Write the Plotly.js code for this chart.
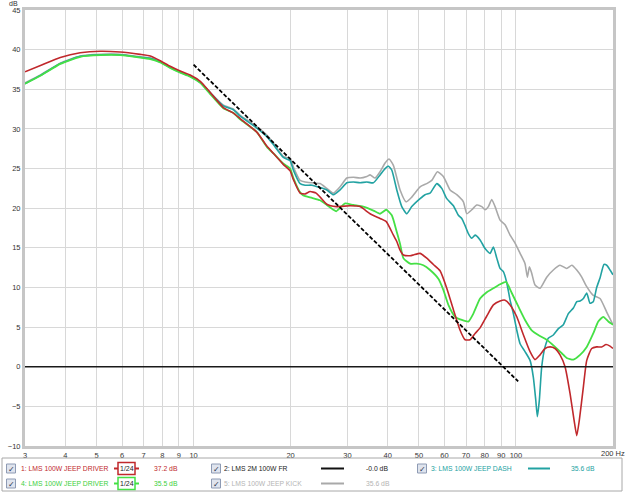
<!DOCTYPE html>
<html><head><meta charset="utf-8">
<script src="https://cdn.plot.ly/plotly-3.0.1.min.js"></script>
<style>html,body{margin:0;padding:0;background:#fff;}#chart{width:625px;height:494px;}</style>
</head><body><div id="chart"></div>
<script>
// ---- data (frequency in Hz, level in dB) ----
const fRed = [3.0,3.35,3.86,4.45,5.14,5.92,6.83,7.34,7.88,8.46,9.09,9.76,10.49,11.26,12.37,13.3,13.95,15.71,16.9,17.7,19.0,19.93,20.4,21.4,22.18,22.99,24.0,24.69,25.9,27.7,30.58,32.85,35.28,37.89,39.6,41.67,42.69,43.71,44.75,46.95,48.1,50.42,52.89,55.44,58.16,61.01,63.96,67.1,69.54,72.06,74.68,77.4,81.19,85.11,89.28,92.52,95.89,100.6,105.5,110.6,114.6,118.8,123.1,127.6,132.2,137,142,147.2,151.4,154.4,157.3,161.9,165.8,171.8,178,184.5,190.3,195.8,200];
const dbRed = [37.2,38.0,39.0,39.6,39.8,39.7,39.4,39.2,38.6,37.9,37.3,36.8,36.0,34.6,32.7,32.0,31.3,29.6,27.8,26.9,25.5,24.7,23.6,21.9,21.8,22.1,21.9,21.4,20.5,20.2,20.3,20.2,19.3,18.7,18.3,16.6,15.8,14.7,14.1,14.0,14.1,14.3,13.7,12.9,12.1,9.9,7.2,4.6,3.4,3.4,4.2,4.9,6.4,7.8,8.3,8.4,7.8,6.3,4.0,1.9,0.9,1.5,2.3,2.5,2.3,1.5,0,-3.4,-6.7,-8.7,-6.7,-2.5,0.8,2.3,2.5,2.5,2.8,2.6,2.3];

const fGreen = [3.0,3.35,3.86,4.45,5.14,5.92,6.83,7.34,7.88,8.46,9.09,9.76,10.49,11.26,12.37,13.3,13.95,15.71,16.9,17.7,19.0,19.93,20.4,21.4,21.9,23.3,24.69,25.9,27.15,27.7,29.51,31.31,33.6,36.12,37.89,39.6,41.2,42.69,43.71,44.75,46.95,49.25,51.62,54.15,57.45,59.54,61.71,64.74,67.92,71.19,73.77,77.4,81.19,85.11,89.28,93.18,97.06,101.7,106.7,111.9,117.3,124.6,132.2,138.7,143.7,150.7,158.1,165.8,173.7,180,186.6,193.4,200];
const dbGreen = [35.7,36.7,38.2,39.1,39.3,39.3,39.0,38.8,38.4,37.7,37.1,36.6,35.8,34.4,32.6,32.0,31.2,29.6,27.7,26.9,25.6,25.0,23.8,22.0,21.6,21.3,21.0,20.4,19.8,19.6,20.6,20.4,20.2,19.7,19.3,19.8,19.1,17.0,15.5,13.7,13.0,13.0,12.8,12.2,11.1,9.7,7.8,6.3,5.9,5.7,6.7,8.6,9.4,9.9,10.4,10.7,9.3,7.6,5.9,4.6,4.0,3.4,2.5,1.7,1.1,0.9,1.5,2.5,4.2,5.7,6.3,5.7,5.3];

const fTeal = [3.0,3.35,3.86,4.45,5.14,5.92,6.83,7.34,7.88,8.46,9.09,9.76,10.49,11.26,12.37,13.3,13.95,15.71,16.9,17.7,19.0,19.93,20.4,21.4,22.18,23.3,24.69,25.9,27.15,28.48,29.88,31.31,32.85,34.46,36.12,37.89,39.27,40.2,41.2,42.69,44.24,45.85,47.52,50.42,52.25,54.15,56.8,58.87,61.01,63.96,66.28,67.92,69.54,71.19,72.94,74.68,77.4,80.21,83.13,85.11,87.2,89.28,91.4,93.65,95.89,98.17,100.6,103,106.7,110.6,113.2,115.2,116.5,118.2,120.2,123.1,126,130.6,135.4,140.3,145.4,150.7,154.4,158.1,161.9,165.8,169.7,173.7,178,182.3,187.5,191.2,195.8,200];
const dbTeal = [35.7,36.75,38.25,39.15,39.35,39.35,39.05,38.9,38.45,37.75,37.15,36.65,35.85,34.55,32.9,32.4,31.6,30.1,29.0,28.0,26.4,26.0,24.8,23.1,22.9,22.9,22.6,22.3,21.7,22.3,23.2,23.3,23.2,23.3,23.2,24.2,25.0,25.3,24.8,22.3,20.2,19.3,20.2,21.2,21.7,21.9,23.1,22.5,21.2,20.3,19.1,18.7,17.8,16.8,16.2,16.6,16.0,14.9,14.3,15.1,13.7,12.4,12.0,10.6,8.4,6.7,4.6,2.9,1.9,0.8,-1.3,-4.2,-6.3,-4.2,0,2.5,3.6,4.0,4.8,5.3,6.7,7.4,8.2,8.3,8.6,9.3,8.0,8.2,10.0,11.2,12.9,12.8,12.2,11.6];

const fGrey = [3.0,3.35,3.86,4.45,5.14,5.92,6.83,7.34,7.88,8.46,9.09,9.76,10.49,11.26,12.37,13.3,13.95,15.71,16.9,17.7,19.0,19.93,20.4,21.4,22.18,23.3,24.69,25.9,27.15,28.48,29.88,31.31,32.85,34.46,35.28,36.56,37.89,39.27,40.4,41.67,43.71,45.62,47.52,50.42,52.89,54.81,57.05,59.54,62.47,65.53,68.7,70.39,72.94,75.59,78.34,80.21,82.12,84.14,86.15,89.28,92.52,95.89,99.37,103,106.7,108.5,110.1,111.9,114.6,118.8,124.6,130.6,137,143.7,149,154.4,160,165.8,173.7,182.3,191.2,200];
const dbGrey = [35.8,36.8,38.3,39.2,39.4,39.4,39.1,38.95,38.5,37.8,37.2,36.7,35.9,34.6,33.0,32.5,31.7,30.3,29.2,28.2,26.5,26.3,25.2,23.5,23.3,23.2,23.1,22.5,21.9,22.7,23.8,23.9,23.8,24.0,24.2,23.8,24.6,25.7,26.2,25.4,22.3,20.8,21.4,22.7,23.1,23.5,24.6,24.0,22.3,21.7,20.8,19.3,19.8,20.4,20.2,19.8,20.2,21.1,20.2,18.5,17.9,16.6,15.6,14.3,13.0,11.3,12.6,11.8,10.3,9.9,11.3,12.2,12.8,12.4,12.8,12.2,11.3,10.1,9.0,8.6,6.9,5.3];

const fFlat = [3, 200];
const dbFlat = [0, 0];

const fSlope = [10, 101.6];
const dbSlope = [38.1, -1.85];

const xTickVals = [3,4,5,6,7,8,9,10,20,30,40,50,60,70,80,90,100,200];
const xTickText = ['3','4','5','6','7','8','9','10','20','30','40','50','60','70','80','90','100',''];
const yTickVals = [-10,-5,0,5,10,15,20,25,30,35,40,45];

const legendNames = ['1: LMS 100W JEEP DRIVER','2: LMS 2M 100W FR','3: LMS 100W JEEP DASH','4: LMS 100W JEEP DRIVER','5: LMS 100W JEEP KICK'];
const legendValues = ['37.2 dB','-0.0 dB','35.6 dB','35.5 dB','35.6 dB'];

// ---- styling ----
const C_RED = '#c0282c', C_GREEN = '#45e045', C_TEAL = '#22a2a2', C_GREY = '#a9a9a9';
const FONT = 'Liberation Sans, Arial, sans-serif';

function line(x, y, color, w) {
  return {x: x, y: y, type: 'scatter', mode: 'lines', hoverinfo: 'skip',
          line: {color: color, width: w, shape: 'spline', smoothing: 0.5}};
}
const traces = [
  line(fGrey, dbGrey, C_GREY, 1.6),
  line(fTeal, dbTeal, C_TEAL, 1.6),
  line(fGreen, dbGreen, C_GREEN, 1.8),
  line(fRed, dbRed, C_RED, 1.6),
  {x: fFlat, y: dbFlat, type: 'scatter', mode: 'lines', hoverinfo: 'skip', line: {color: '#1a1a1a', width: 1.6}},
  {x: fSlope, y: dbSlope, type: 'scatter', mode: 'lines', hoverinfo: 'skip', line: {color: '#000', width: 1.8, dash: '4px,2px'}}
];

const M = {l: 25, r: 12, t: 10, b: 48};
const W = 625 - M.l - M.r, H = 494 - M.t - M.b;
const px = x => (x - M.l) / W;
const py = y => (494 - M.b - y) / H;

const shapes = [];
const ann = [];
function txt(x, y, t, color, anchor, size) {
  ann.push({xref: 'paper', yref: 'paper', x: px(x), y: py(y), text: t, showarrow: false,
            xanchor: anchor || 'left', yanchor: 'middle', borderpad: 0,
            font: {family: FONT, size: size || 6.8, color: color}});
}
function rect(x0, y0, x1, y1, fill, lc, lw) {
  shapes.push({type: 'rect', xref: 'paper', yref: 'paper', x0: px(x0), x1: px(x1), y0: py(y1), y1: py(y0),
               fillcolor: fill, line: {color: lc, width: lw}});
}
function seg(x0, x1, y, color, w) {
  shapes.push({type: 'line', xref: 'paper', yref: 'paper', x0: px(x0), x1: px(x1), y0: py(y), y1: py(y),
               line: {color: color, width: w}});
}
function check(x, y) {
  rect(x - 4.5, y - 4.5, x + 4.5, y + 4.5, '#dfe4ee', '#8e9bb4', 1);
  txt(x, y + 0.5, '✓', '#2a3550', 'center', 8);
}

// legend frame
rect(2, 458, 622, 491, 'rgba(255,255,255,0)', '#a8a8a8', 1);
const r1 = 468.5, r2 = 483.5;
// row 1
check(11, r1); txt(20, r1, legendNames[0], C_RED);
seg(114, 139, r1, C_RED, 2); rect(118, r1 - 6, 135, r1 + 6, '#fff', C_RED, 1.5); txt(126.5, r1, '1/24', '#222', 'center', 7);
txt(153, r1, legendValues[0], C_RED);
check(216, r1); txt(223, r1, legendNames[1], '#222');
seg(321, 344, r1, '#111', 2); txt(365, r1, legendValues[1], '#222');
check(422, r1); txt(430, r1, legendNames[2], C_TEAL);
seg(528, 550, r1, C_TEAL, 2); txt(570, r1, legendValues[2], C_TEAL);
// row 2
check(11, r2); txt(20, r2, legendNames[3], '#3ccf3c');
seg(114, 139, r2, C_GREEN, 2); rect(118, r2 - 6, 135, r2 + 6, '#fff', C_GREEN, 1.5); txt(126.5, r2, '1/24', '#222', 'center', 7);
txt(153, r2, legendValues[3], '#3ccf3c');
check(216, r2); txt(223, r2, legendNames[4], '#b4b4b4');
seg(321, 344, r2, C_GREY, 2); txt(365, r2, legendValues[4], '#b4b4b4');

// axis extras
txt(613, 453, '200 Hz', '#333', 'center', 7.5);
txt(8, 4, 'dB', '#333', 'left', 7);

const layout = {
  width: 625, height: 494, margin: M, showlegend: false,
  paper_bgcolor: '#fff', plot_bgcolor: '#fff',
  font: {family: FONT, size: 7.5, color: '#333'},
  xaxis: {type: 'log', range: [Math.log10(3), Math.log10(200)], tickvals: xTickVals, ticktext: xTickText,
          showgrid: true, gridcolor: '#d8d8d8', gridwidth: 1, zeroline: false, ticks: '', ticklen: 0,
          showline: true, linecolor: '#c6c6c6', linewidth: 3, mirror: true,
          tickfont: {family: FONT, size: 7.5, color: '#333'}},
  yaxis: {range: [-10, 45], tickvals: yTickVals, showgrid: true, gridcolor: '#d8d8d8', gridwidth: 1,
          zeroline: false, ticks: '', ticklen: 0,
          showline: true, linecolor: '#c6c6c6', linewidth: 3, mirror: true,
          tickfont: {family: FONT, size: 7.5, color: '#333'}},
  shapes: shapes, annotations: ann
};
Plotly.newPlot('chart', traces, layout, {staticPlot: true, displayModeBar: false});
</script></body></html>
